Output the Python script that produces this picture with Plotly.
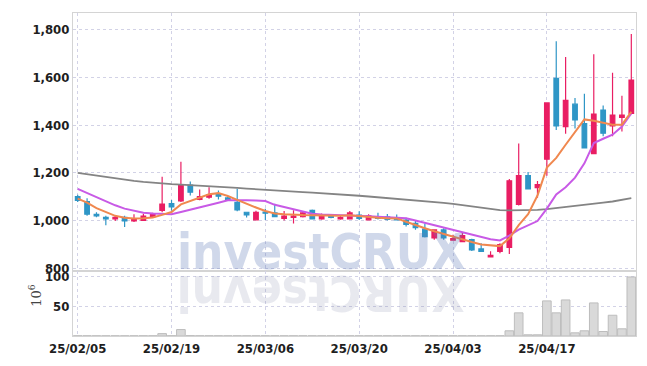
import plotly.graph_objects as go

dates = (
    ["25/02/%s" % d for d in ["05","06","07","10","11","12","13","14","17","18","19","20","21","24","25","26","27","28"]]
    + ["25/03/%s" % d for d in ["04","05","06","07","10","11","12","13","14","17","18","19","20","21","24","25","26","27","28","31"]]
    + ["25/04/%s" % d for d in ["01","02","03","04","07","08","09","10","11","14","15","16","17","18","21","22","23","24","25","28","29","30"]]
)

opens  = [1101,1080,1026,1014,1007,1014,999,1001,1016,1043,1071,1082,1149,1089,1098,1112,1095,1076,1035,1003,
          1036,1032,1009,1013,1016,1043,1007,1021,1007,1007,1023,1003,1016,1016,1013,1002,988,964,927,961,
          918,912,920,881,848,871,888,1068,1188,1138,1257,1596,1394,1488,1406,1281,1463,1397,1432,1449]
highs  = [1108,1094,1035,1020,1020,1020,1027,1029,1033,1184,1086,1247,1164,1130,1140,1126,1102,1133,1036,1041,
          1050,1071,1040,1043,1040,1046,1030,1026,1022,1040,1039,1027,1033,1028,1025,1012,999,988,964,968,
          941,951,924,905,871,905,1174,1323,1204,1166,1493,1752,1686,1514,1532,1697,1482,1620,1523,1782]
lows   = [1078,1020,1014,980,998,973,994,1000,1012,1035,1041,1078,1105,1085,1092,1088,1083,1039,1013,1001,
          1002,1016,1000,988,1013,1004,1003,1010,1003,1005,1002,1000,1005,1000,1000,975,962,929,920,920,
          916,909,873,871,848,863,860,1063,1133,1096,1188,1380,1364,1386,1305,1281,1353,1353,1373,1449]
closes = [1085,1027,1020,1007,1014,999,1005,1019,1027,1069,1057,1148,1119,1101,1108,1102,1088,1045,1024,1035,
          1031,1016,1019,1019,1032,1007,1019,1013,1013,1032,1009,1020,1009,1005,1003,984,970,933,961,927,
          924,937,877,871,854,899,1167,1188,1133,1151,1493,1397,1504,1422,1305,1446,1366,1442,1442,1589]

ma_short = [1092,1075,1052,1035,1020,1012,1009,1010,1013,1024,1036,1068,1082,1098,1110,1115,1103,1087,1070,1055,
            1040,1030,1027,1024,1023,1022,1021,1020,1020,1022,1018,1015,1012,1010,1009,995,980,968,955,943,
            932,920,910,900,895,893,926,981,1027,1105,1222,1263,1318,1369,1424,1418,1411,1402,1402,1456]
ma_mid   = [1133,1115,1098,1080,1064,1050,1040,1033,1030,1029,1027,1036,1045,1055,1065,1075,1085,1086,1085,1084,
            1082,1066,1056,1046,1036,1029,1026,1025,1024,1023,1021,1018,1016,1015,1014,1010,1000,990,980,970,
            961,951,942,933,922,917,937,962,980,998,1050,1110,1140,1180,1240,1325,1343,1360,1394,1449]
ma_long  = [1200,1194,1188,1182,1177,1172,1166,1162,1158,1155,1153,1151,1149,1148,1146,1144,1140,1137,1134,1131,
            1128,1125,1123,1121,1119,1117,1115,1113,1110,1107,1104,1101,1098,1095,1092,1089,1085,1082,1078,1074,
            1070,1065,1060,1054,1049,1044,1043,1043,1043,1045,1048,1052,1057,1062,1066,1070,1075,1080,1086,1094]

volumes = [0.4,0.4,0.3,0.3,0.3,0.3,0.3,0.4,0.4,4.0,0.5,10.8,0.6,0.4,0.4,0.4,0.3,0.4,0.3,0.3,
           0.3,0.3,0.3,0.3,0.3,0.3,0.3,0.3,0.3,0.3,0.3,0.3,0.3,0.3,0.3,0.3,0.3,0.4,0.4,0.4,
           0.3,0.3,0.4,0.3,0.4,0.4,8.7,38.7,2.0,2.0,58.7,38.7,60.3,5.3,8.7,55.3,7.5,34.7,12.0,98.7]

tick_idx = [0, 10, 20, 30, 40, 50]
tick_vals = [dates[i] for i in tick_idx]

UP = "#e91e63"
DOWN = "#2f96c6"
GRID = "#d2d2e6"
FRAME = "#d4d4d4"

axis_font = dict(family="DejaVu Sans Condensed, DejaVu Sans, sans-serif", size=13, color="#1e1e1e", weight="bold")
wm_family = "DejaVu Sans Condensed, DejaVu Sans, sans-serif"

fig = go.Figure()

fig.add_trace(go.Bar(
    x=dates, y=volumes, xaxis="x2", yaxis="y2",
    marker=dict(color="#d9d9d9", line=dict(color="#bdbdbd", width=1)),
    showlegend=False, hoverinfo="skip"))

fig.add_trace(go.Scatter(x=dates, y=ma_long, mode="lines", line=dict(color="#848484", width=1.8),
                         showlegend=False, hoverinfo="skip"))
fig.add_trace(go.Scatter(x=dates, y=ma_mid, mode="lines", line=dict(color="#c85ae6", width=2),
                         showlegend=False, hoverinfo="skip"))
fig.add_trace(go.Scatter(x=dates, y=ma_short, mode="lines", line=dict(color="#f0884f", width=2),
                         showlegend=False, hoverinfo="skip"))

fig.add_trace(go.Candlestick(
    x=dates, open=opens, high=highs, low=lows, close=closes,
    increasing=dict(line=dict(color=UP, width=1.2), fillcolor=UP),
    decreasing=dict(line=dict(color=DOWN, width=1.2), fillcolor=DOWN),
    whiskerwidth=0, showlegend=False))

fig.update_layout(
    width=647, height=366,
    margin=dict(l=73, r=10, t=10, b=29),
    paper_bgcolor="white", plot_bgcolor="white",
    bargap=0.08,
    xaxis=dict(type="category", domain=[0, 1], anchor="y", matches="x2",
               range=[-0.5, 59.5], showticklabels=False, rangeslider=dict(visible=False),
               tickmode="array", tickvals=tick_vals,
               showgrid=True, gridcolor=GRID, griddash="dot", gridwidth=1,
               showline=True, linecolor=FRAME, mirror=True, ticks=""),
    xaxis2=dict(type="category", domain=[0, 1], anchor="y2",
                range=[-0.5, 59.5], rangeslider=dict(visible=False),
                tickmode="array", tickvals=tick_vals, ticktext=tick_vals,
                tickfont=axis_font, tickangle=0,
                showgrid=True, gridcolor=GRID, griddash="dot", gridwidth=1,
                showline=True, linecolor=FRAME, mirror=True, ticks=""),
    yaxis=dict(domain=[0.2, 1], anchor="x", range=[787, 1870],
               tickvals=[800, 1000, 1200, 1400, 1600, 1800], tickformat=",d",
               tickfont=axis_font,
               showgrid=True, gridcolor=GRID, griddash="dot", gridwidth=1,
               showline=True, linecolor=FRAME, mirror=True, ticks="", zeroline=False),
    yaxis2=dict(domain=[0, 0.2], anchor="x2", range=[0, 108],
                tickvals=[50, 100], tickfont=axis_font,
                showgrid=True, gridcolor=GRID, griddash="dot", gridwidth=1,
                showline=True, linecolor=FRAME, mirror=True, ticks="", zeroline=False),
    annotations=[
        dict(text="investCRUX", xref="paper", yref="paper", x=0.4406, y=0.163,
             xanchor="center", yanchor="bottom", showarrow=False,
             font=dict(family=wm_family, size=49, weight="bold",
                       color="rgba(100,125,185,0.30)")),
        dict(text="XURCtsevni", xref="paper", yref="paper", x=0.4406, y=0.1346,
             xanchor="center", yanchor="middle", showarrow=False, textangle=180,
             font=dict(family=wm_family, size=49, weight="bold",
                       color="rgba(120,125,160,0.17)")),
        dict(text="10<sup>6</sup>", xref="paper", yref="paper", x=-0.0674, y=0.125,
             xanchor="center", yanchor="middle", showarrow=False, textangle=-90,
             font=dict(family="DejaVu Serif, serif", size=13, color="#444444")),
    ],
)

fig.write_html("out.html")
